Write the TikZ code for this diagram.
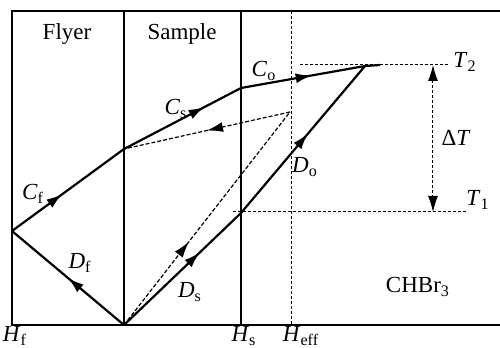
\documentclass[tikz,border=0pt]{standalone}
\usepackage{fontspec}
\setmainfont{Liberation Serif}
\usetikzlibrary{arrows.meta,decorations.markings}
\begin{document}
\begin{tikzpicture}[x=0.5pt, y=-0.5pt,
        marco/.style={line width=0.6pt},
        punteada/.style={line width=0.5pt, densely dashed, dash pattern=on 1.5pt off 1pt},
        onda/.style={line width=1.1pt},
        rayo/.style={line width=0.6pt, dash pattern=on 2pt off 1pt},
        flecha/.style={postaction={decorate}, decoration={markings, mark=at position #1 with {\arrow{Latex[length=8pt,width=5pt]}}}},
        etiqueta/.style={font=\fontsize{11.5}{13}\selectfont, inner sep=1pt}]
        \useasboundingbox (0,0) rectangle (500,348);
        % puntos del diagrama
        \coordinate (hf) at (12,231);
        \coordinate (o)  at (124,325);
        \coordinate (a)  at (124,149);
        \coordinate (b)  at (241,88);
        \coordinate (c)  at (365,66);
        \coordinate (c2) at (380,65);
        \coordinate (d)  at (241,213);
        \coordinate (e)  at (290,112);
        % marco
        \draw[marco] (500,11) -- (12,11) -- (12,325) -- (500,325);
        \draw[marco] (124,11) -- (124,325);
        \draw[marco] (241,11) -- (241,325);
        \draw[punteada] (292,11) -- (292,325);
        \draw[punteada] (300,65) -- (450,65);
        \draw[punteada] (233,212) -- (466,212);
        \draw[punteada, {Latex[length=8pt,width=5pt]}-{Latex[length=8pt,width=5pt]}] (433,65) -- (433,212);
        % ondas
        \draw[onda, flecha=0.45] (hf) -- (a);
        \draw[onda, flecha=0.5] (o) -- (hf);
        \draw[onda, flecha=0.69] (a) -- (b);
        \draw[onda, flecha=0.57] (b) -- (c);
        \draw[onda] (c) -- (c2);
        \draw[onda, flecha=0.65] (o) -- (d);
        \draw[onda, flecha=0.54] (d) -- (c);
        \draw[rayo, flecha=0.39] (o) -- (e);
        \draw[rayo, flecha=0.5] (e) -- (a);
        % textos
        \node[etiqueta] (flyer)  at (67,34)   {Flyer};
        \node[etiqueta] (sample) at (182,34)  {Sample};
        \node[etiqueta] (lcf)    at (33,194)  {\textit{C}\textsubscript{f}};
        \node[etiqueta] (ldf)    at (80,263)  {\textit{D}\textsubscript{f}};
        \node[etiqueta] (lcs)    at (176,109) {\textit{C}\textsubscript{s}};
        \node[etiqueta] (lco)    at (264,71)  {\textit{C}\textsubscript{o}};
        \node[etiqueta] (ldo)    at (305,167) {\textit{D}\textsubscript{o}};
        \node[etiqueta] (lds)    at (190,292) {\textit{D}\textsubscript{s}};
        \node[etiqueta] (lt2)    at (465,62)  {\textit{T}\textsubscript{2}};
        \node[etiqueta] (lt1)    at (478,200) {\textit{T}\textsubscript{1}};
        \node[etiqueta] (ldt)    at (456,138) {Δ\textit{T}};
        \node[etiqueta] (chbr)   at (418,287) {CHBr\textsubscript{3}};
        \node[etiqueta] (lhf)    at (15,336)  {\textit{H}\textsubscript{f}};
        \node[etiqueta] (lhs)    at (244,336) {\textit{H}\textsubscript{s}};
        \node[etiqueta] (lhe)    at (301,336) {\textit{H}\textsubscript{eff}};
    \end{tikzpicture}
\end{document}
